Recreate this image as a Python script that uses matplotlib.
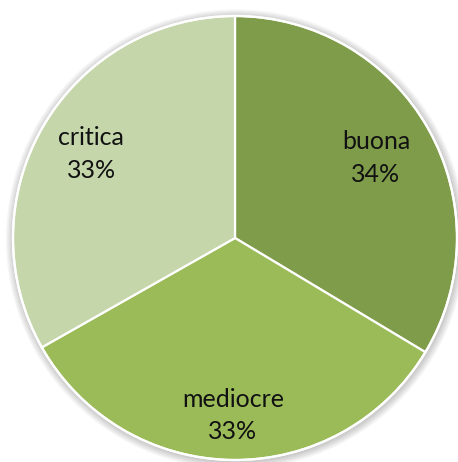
import matplotlib
matplotlib.use("Agg")
import matplotlib.pyplot as plt
import numpy as np

# quality ratings (share of responses)
labels = ["buona", "mediocre", "critica"]
values = [33.6, 33.2, 33.2]
colors = ["#7f9c4a", "#9bbb59", "#c5d6ab"]
label_dist = [0.73, 0.80, 0.75]

plt.rcParams["font.family"] = ["Lato", "DejaVu Sans"]

fig = plt.figure(figsize=(4.58, 4.62), dpi=100)
ax = fig.add_axes([0, 0, 1, 1])

# soft grey shadow around the rim
for k in range(6):
    ax.add_patch(plt.Circle((0.004, -0.006), 1.0 + 0.006 * (k + 1),
                            color="#000000", alpha=0.035, lw=0, zorder=0))

wedges, _ = ax.pie(values, colors=colors, startangle=90, counterclock=False,
                   radius=1.0,
                   wedgeprops=dict(edgecolor="white", linewidth=1.6))
for w in wedges:
    w.set_zorder(2)
ax.add_patch(plt.Circle((0, 0), 1.0, fill=False, ec="white", lw=1.6, zorder=3))

total = sum(values)
for w, lab, v, d in zip(wedges, labels, values, label_dist):
    mid = np.deg2rad((w.theta1 + w.theta2) / 2)
    ax.text(d * np.cos(mid), d * np.sin(mid), f"{lab}\n{v / total * 100:.0f}%",
            ha="center", va="center", fontsize=18, linespacing=1.5,
            color="#111111", zorder=4)

ax.set_aspect("auto")
ax.set_xlim(-235 / 222, (458 - 235) / 222)
ax.set_ylim(-(462 - 238) / 222, 238 / 222)
ax.axis("off")

fig.savefig("out.png", dpi=100, facecolor="white")
